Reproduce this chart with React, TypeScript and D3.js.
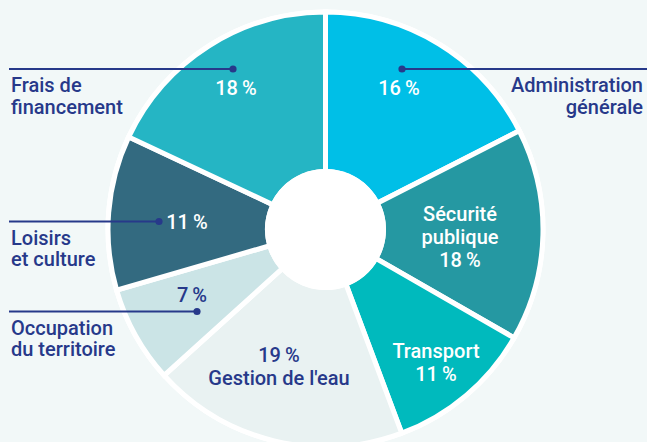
import React from "react";
import * as d3 from "d3";

const categories = [
  "Administration générale",
  "Sécurité publique",
  "Transport",
  "Gestion de l'eau",
  "Occupation du territoire",
  "Loisirs et culture",
  "Frais de financement",
];
// slice sizes as drawn (angles)
const sliceValues = [17.5, 15.8, 11.0, 19.0, 7.2, 11.5, 18.0];
// percentages printed on the chart
const pctLabels = ["16", "18", "11", "19", "7", "11", "18"];
const colors = ["#00bfe7", "#2598a2", "#00babd", "#e9f2f2", "#cbe4e6", "#336a80", "#25b5c4"];

const W = 647;
const H = 442;
const NAVY = "#27398a";
const BG = "#f2f8f8";
const FONT = "Roboto, 'Open Sans', sans-serif";

export default function App() {
  const cx = 325.5;
  const cy = 229.5;
  const rOuter = 217.5;
  const rInner = 58;
  const rHole = 60.5;

  const pie = d3.pie<number>().sort(null).value((d) => d);
  const arcs = pie(sliceValues);
  const arc = d3.arc<d3.PieArcDatum<number>>().innerRadius(rInner).outerRadius(rOuter);

  const pct = (i: number) => `${pctLabels[i]}\u2009%`;

  // label layout: offsets from chart center
  type Lbl = { dx: number; dy: number; lines: string[]; color: string };
  const inside: Lbl[] = [
    { dx: 73.5, dy: -134.5, lines: [pct(0)], color: "#fff" },
    { dx: 134.5, dy: -8.5, lines: ["Sécurité", "publique", pct(1)], color: "#fff" },
    { dx: 110.5, dy: 128.5, lines: ["Transport", pct(2)], color: "#fff" },
    { dx: -46.5, dy: 132.5, lines: [pct(3), categories[3]], color: NAVY },
    { dx: -133.5, dy: 72.5, lines: [pct(4)], color: NAVY },
    { dx: -138.5, dy: -0.5, lines: [pct(5)], color: "#fff" },
    { dx: -89.5, dy: -134.5, lines: [pct(6)], color: "#fff" },
  ];

  type Lead = { x1: number; x2: number; y: number; dotX: number; textX: number; anchor: string; lines: string[] };
  const leaders: Lead[] = [
    { x1: cx + 76.5, x2: W, y: cy - 160.5, dotX: cx + 76.5, textX: 643, anchor: "end", lines: ["Administration", "générale"] },
    { x1: 9, x2: cx - 92.5, y: cy - 160.5, dotX: cx - 92.5, textX: 11, anchor: "start", lines: ["Frais de", "financement"] },
    { x1: 9, x2: cx - 166.5, y: cy - 8, dotX: cx - 166.5, textX: 11, anchor: "start", lines: ["Loisirs", "et culture"] },
    { x1: 9, x2: cx - 128.5, y: cy + 82, dotX: cx - 128.5, textX: 11, anchor: "start", lines: ["Occupation", "du territoire"] },
  ];

  return (
    <svg
      width={W}
      height={H}
      viewBox={`0 0 ${W} ${H}`}
      style={{ position: "absolute", left: 0, top: 0, display: "block" }}
    >
      <rect x={0} y={0} width={W} height={H} fill={BG} />
      <g transform={`translate(${cx},${cy})`}>
        <circle r={220} fill="#fff" />
        {arcs.map((a, i) => (
          <path key={categories[i]} d={arc(a) || ""} fill={colors[i]} stroke="#fff" strokeWidth={5} strokeLinejoin="miter" />
        ))}
        <circle r={rHole} fill="#fff" />
      </g>
      {inside.map((l, i) =>
        l.lines.map((t, j) => (
          <text
            key={"in" + i + "-" + j}
            x={cx + l.dx}
            y={cy + l.dy + j * 23}
            textAnchor="middle"
            fill={l.color}
            fontFamily={FONT}
            fontSize={20}
            fontWeight={500}
          >
            {t}
          </text>
        ))
      )}
      {leaders.map((l, i) => (
        <g key={"ld" + i}>
          <line x1={l.x1} x2={l.x2} y1={l.y} y2={l.y} stroke={NAVY} strokeWidth={2} />
          <circle cx={l.dotX} cy={l.y} r={3.6} fill={NAVY} />
          {l.lines.map((t, j) => (
            <text
              key={j}
              x={l.textX}
              y={l.y + 23 + j * 21.5}
              textAnchor={l.anchor as any}
              fill={NAVY}
              fontFamily={FONT}
              fontSize={20}
              fontWeight={500}
            >
              {t}
            </text>
          ))}
        </g>
      ))}
    </svg>
  );
}
